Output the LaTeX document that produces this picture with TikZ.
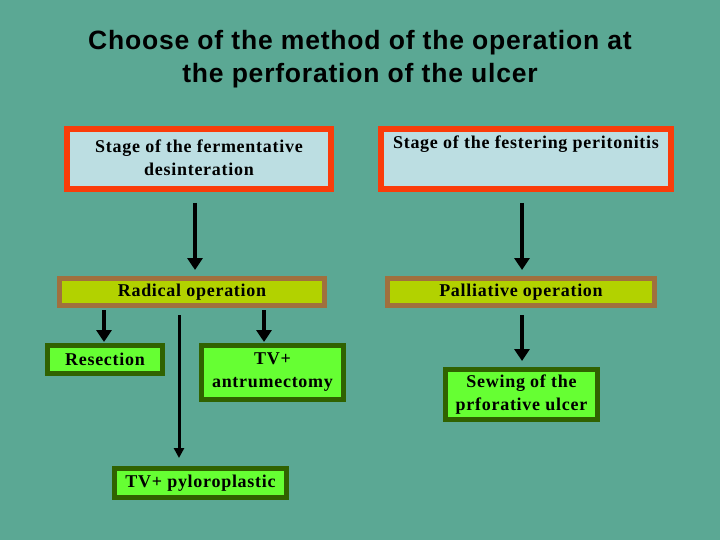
\documentclass[tikz,border=0pt]{standalone}
\usepackage{fontspec}
\setmainfont{Liberation Serif}[LetterSpace=4]
\newfontfamily\titlefont{Liberation Sans}[LetterSpace=3]
\usetikzlibrary{arrows.meta}
\definecolor{bgteal}{RGB}{91,168,148}
\definecolor{redb}{RGB}{250,60,10}
\definecolor{lblue}{RGB}{188,222,226}
\definecolor{brownb}{RGB}{160,112,62}
\definecolor{ygreen}{RGB}{178,210,0}
\definecolor{dgreen}{RGB}{48,98,0}
\definecolor{bgreen}{RGB}{102,255,51}
\tikzset{
  x=1pt,y=-1pt,
  txt/.style={font=\fontsize{18}{23}\selectfont\bfseries, align=center, text=black},
  stagebox/.style={draw=redb, fill=lblue, line width=6pt, inner sep=0pt, txt},
  opbox/.style={draw=brownb, fill=ygreen, line width=5pt, inner sep=0pt, txt},
  resbox/.style={draw=dgreen, fill=bgreen, line width=5pt, inner sep=0pt, txt},
  arr/.style={line width=4pt, -{Triangle[width=15pt,length=12pt]}},
}
\begin{document}
\begin{tikzpicture}
\useasboundingbox[fill=bgteal] (0,0) rectangle (720,540);
\node[font=\titlefont\bfseries\fontsize{26.5}{33}\selectfont, align=center] (title) at (360,59)
  {Choose of the method of the operation at\\the perforation of the ulcer};
% stage boxes
\node[stagebox, minimum width=264pt, minimum height=60pt] (s1) at (199,159)
  {Stage of the fermentative\\desinteration\vspace{3pt}};
\node[stagebox, minimum width=290pt, minimum height=60pt] (s2) at (526,159)
  {Stage of the festering peritonitis\\\strut\vspace{3pt}};
% operation boxes
\node[opbox, minimum width=265pt, minimum height=27pt] (rad) at (192,292) {\raisebox{-2pt}{Radical operation}};
\node[opbox, minimum width=267pt, minimum height=27pt] (pal) at (521,292) {\raisebox{-2pt}{Palliative operation}};
% result boxes
\node[resbox, minimum width=115pt, minimum height=28pt] (res) at (105,359.5) {Resection};
\node[resbox, minimum width=142pt, minimum height=54pt] (tva) at (272.5,372.5) {TV+\\antrumectomy};
\node[resbox, minimum width=172pt, minimum height=29pt] (tvp) at (200.5,483) {TV+ pyloroplastic};
\node[resbox, minimum width=152pt, minimum height=50pt] (sew) at (521.5,394.5) {\vspace{4pt}Sewing of the\\prforative ulcer};
% coordinates
\coordinate (a1s) at (195,203);
\coordinate (a1e) at (195,270);
\coordinate (a2s) at (522,203);
\coordinate (a2e) at (522,270);
\coordinate (r1s) at (104,310);
\coordinate (r1e) at (104,342);
\coordinate (r2s) at (264,310);
\coordinate (r2e) at (264,342);
\coordinate (mids) at (179,315);
\coordinate (mide) at (179,458);
\coordinate (pals) at (522,315);
\coordinate (pale) at (522,361);
% arrows
\draw[arr] (a1s) -- (a1e);
\draw[arr] (a2s) -- (a2e);
\draw[arr] (r1s) -- (r1e);
\draw[arr] (r2s) -- (r2e);
\draw[arr, line width=3pt, -{Triangle[width=10pt,length=10pt]}] (mids) -- (mide);
\draw[arr] (pals) -- (pale);
\end{tikzpicture}
\end{document}
